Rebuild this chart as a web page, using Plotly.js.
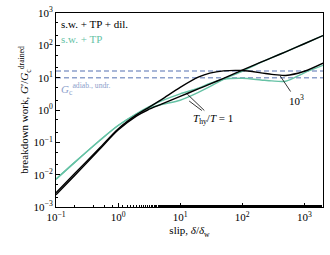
<!DOCTYPE html>
<html><head><meta charset="utf-8">
<script src="https://cdn.plot.ly/plotly-3.0.1.min.js"></script>
<style>html,body{margin:0;padding:0;background:#fff}</style>
</head><body><div id="chart" style="width:330px;height:255px"></div>
<script>
// slip δ/δw
const slip = [0.1,0.2,0.5,1,2,3,5,10,20,30,50,100,200,300,500,1000,2000];
// breakdown work G'/Gc_drained
const dilThy1   = [0.0024,0.0095,0.06,0.24,0.66,1.0,1.51,2.63,4.57,6.31,9.55,17.0,30.2,41.7,63.1,112,200];
const dilThy1e3 = [0.00275,0.0108,0.066,0.26,0.72,1.15,2.1,5.0,10.5,13.8,16.2,16.6,14.1,12.6,11.7,15.8,28.2];
const tpThy1    = [0.00724,0.024,0.112,0.331,0.76,1.12,1.48,2.0,3.55,5.25,8.91,15.8,29.5,41.7,63.1,112,200];
const tpThy1e3  = [0.00724,0.024,0.112,0.331,0.78,1.2,1.91,3.16,4.79,6.61,8.91,9.55,8.51,7.94,7.76,14.1,24.0];
const gcLevels = [10, 16];
const xTickVals = [0.1,1,10,100,1000];
const xTickText = ['10<sup>−1</sup>','10<sup>0</sup>','10<sup>1</sup>','10<sup>2</sup>','10<sup>3</sup>'];
const yTickVals = [0.001,0.01,0.1,1,10,100,1000];
const yTickText = ['10<sup>−3</sup>','10<sup>−2</sup>','10<sup>−1</sup>','10<sup>0</sup>','10<sup>1</sup>','10<sup>2</sup>','10<sup>3</sup>'];

const BLACK = '#000000', GREEN = '#66c2a5', BLUE = '#8da0cb';
const xr = [Math.log10(0.1), Math.log10(2000)];
const traces = [];
gcLevels.forEach(g => traces.push({x:[slip[0], slip[slip.length-1]], y:[g,g], mode:'lines',
  line:{color:BLUE, width:1.5, dash:'5px,3px'}, hoverinfo:'skip'}));
[[tpThy1,GREEN],[tpThy1e3,GREEN],[dilThy1,BLACK],[dilThy1e3,BLACK]].forEach(([y,c]) =>
  traces.push({x:slip, y:y, mode:'lines', line:{color:c, width:1.4, shape:'spline', smoothing:0.8}}));

const font = {family:'"Liberation Serif", "DejaVu Serif", serif', size:11, color:'#000'};
const axisCommon = {type:'log', showgrid:false, zeroline:false, showline:true, linecolor:'#000', linewidth:1,
  mirror:true, ticks:'inside', ticklen:4, tickcolor:'#000',
  minor:{ticks:'inside', ticklen:2, tickcolor:'#000', showgrid:false}, tickfont:font};
const layout = {
  width:330, height:255, margin:{l:56, r:7, t:13, b:48},
  paper_bgcolor:'#fff', plot_bgcolor:'#fff', showlegend:false, font:font,
  xaxis: Object.assign({}, axisCommon, {range:xr, tickvals:xTickVals, ticktext:xTickText,
    title:{text:'slip, <i>δ</i>/<i>δ</i><sub>w</sub>', font:font, standoff:4}}),
  yaxis: Object.assign({}, axisCommon, {range:[-3,3], tickvals:yTickVals, ticktext:yTickText,
    title:{text:'breakdown work, <i>G</i>′/<i>G</i><sub>c</sub><sup>drained</sup>', font:font, standoff:2}}),
  annotations:[
    {xref:'paper', yref:'paper', x:0.01, y:0.985, xanchor:'left', yanchor:'top', showarrow:false,
      text:'s.w. + TP + dil.', font:Object.assign({}, font, {color:BLACK})},
    {xref:'paper', yref:'paper', x:0.01, y:0.905, xanchor:'left', yanchor:'top', showarrow:false,
      text:'s.w. + TP', font:Object.assign({}, font, {color:GREEN})},
    {xref:'paper', yref:'paper', x:0.01, y:0.66, xanchor:'left', yanchor:'top', showarrow:false,
      text:'<i>G</i><sub>c</sub><sup>adiab., undr.</sup>', font:Object.assign({}, font, {color:BLUE})},
    {x:1.113, y:0.495, ax:26, ay:25, showarrow:true, arrowhead:0, arrowwidth:0.8, arrowcolor:'#000',
      text:'<i>T</i><sub>hy</sub>/<i>T</i> = 1', font:font},
    {x:1.145, y:0.278, ax:24, ay:18, showarrow:true, arrowhead:0, arrowwidth:0.8, arrowcolor:'#000',
      text:'<i>T</i><sub>hy</sub>/<i>T</i> = 1', font:Object.assign({}, font, {color:'rgba(0,0,0,0)'})},
    {x:2.613, y:1.05, ax:16, ay:24, showarrow:true, arrowhead:0, arrowwidth:0.8, arrowcolor:'#000',
      text:'10<sup>3</sup>', font:font}
  ]
};
Plotly.newPlot('chart', traces, layout, {staticPlot:true, displayModeBar:false});
</script></body></html>
